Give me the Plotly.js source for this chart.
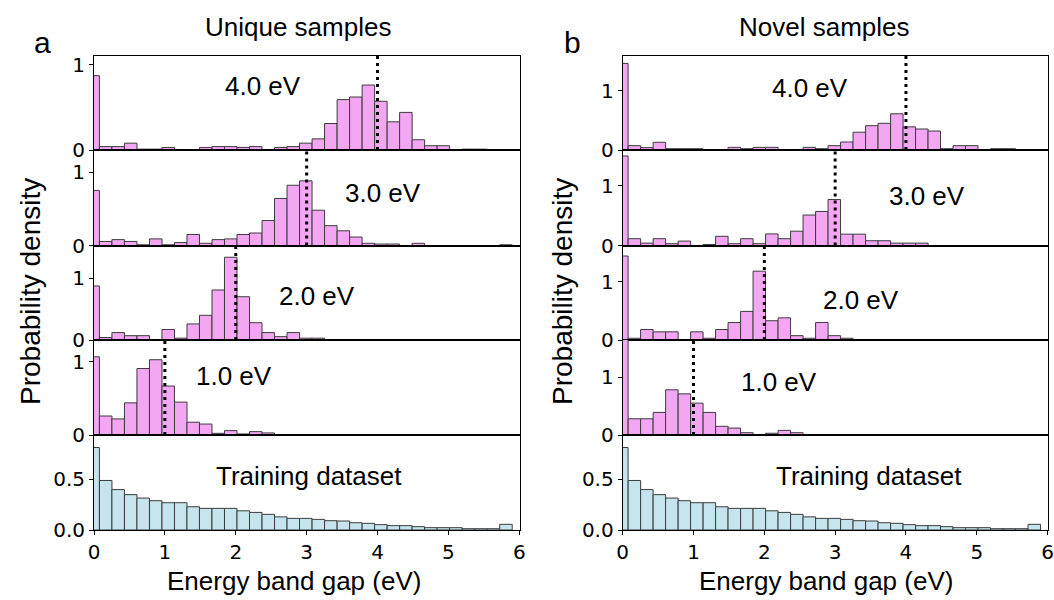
<!DOCTYPE html>
<html>
<head>
<meta charset="utf-8">
<script src="https://cdn.plot.ly/plotly-3.0.1.min.js"></script>
<style>html,body{margin:0;padding:0;background:#fff}#plot{width:1054px;height:600px}</style>
</head>
<body>
<div id="plot"></div>
<script>
// Histogram bin centers (eV)
const binCenters = [-0.012,0.165,0.341,0.518,0.694,0.871,1.047,1.224,1.400,1.576,1.753,1.929,2.106,2.282,2.459,2.635,2.812,2.988,3.165,3.341,3.518,3.694,3.871,4.047,4.224,4.400,4.576,4.753,4.929,5.106,5.282,5.459,5.635,5.812];
const binWidth = 0.1765;

// Panel a: unique samples
const uniq40 = [0.87,0.04,0.04,0.08,0.01,0.01,0.03,0,0,0.03,0.04,0.04,0.03,0.04,0,0.03,0.04,0.08,0.13,0.31,0.59,0.62,0.76,0.57,0.33,0.44,0.12,0.05,0.05,0,0.01,0.01,0,0];
const uniq30 = [0.75,0.055,0.08,0.055,0.01,0.09,0.01,0.04,0.15,0.03,0.08,0.09,0.15,0.17,0.34,0.64,0.82,0.88,0.48,0.27,0.20,0.115,0.03,0.02,0.02,0,0.03,0,0,0,0,0,0,0.01];
const uniq20 = [0.875,0.04,0.12,0.07,0.07,0,0.17,0.03,0.26,0.40,0.81,1.34,0.70,0.28,0.12,0.054,0.12,0.03,0.03,0,0,0,0,0,0,0,0,0,0,0,0,0,0,0];
const uniq10 = [1.07,0.26,0.22,0.44,0.91,1.03,0.67,0.45,0.175,0.15,0.023,0.06,0.014,0.046,0.028,0,0,0,0,0,0,0,0,0,0,0,0,0,0,0,0,0,0,0];
// Panel b: novel samples
const novel40 = [1.46,0.073,0.04,0.13,0.022,0.022,0.022,0,0,0.045,0.022,0.045,0.045,0,0,0.045,0.022,0.073,0.135,0.30,0.41,0.45,0.61,0.39,0.354,0.32,0.022,0.073,0.073,0,0.022,0.022,0,0];
const novel30 = [1.50,0.114,0.04,0.114,0.03,0.074,0,0.017,0.154,0.03,0.114,0.03,0.194,0.114,0.24,0.51,0.57,0.77,0.19,0.19,0.08,0.08,0.04,0.04,0.04,0,0,0,0,0,0,0,0,0];
const novel20 = [1.44,0.03,0.18,0.14,0.14,0,0.14,0.03,0.18,0.30,0.49,1.18,0.33,0.38,0.074,0.03,0.30,0.074,0.03,0,0,0,0,0,0,0,0,0,0,0,0,0,0,0];
const novel10 = [1.7,0.28,0.28,0.39,0.78,0.71,0.55,0.39,0.15,0.12,0.04,0,0.03,0.08,0.04,0,0,0,0,0,0,0,0,0,0,0,0,0,0,0,0,0,0,0];
// Training dataset
const training = [0.816,0.49,0.40,0.35,0.316,0.29,0.27,0.27,0.23,0.214,0.214,0.214,0.19,0.174,0.155,0.13,0.115,0.115,0.105,0.092,0.089,0.072,0.066,0.053,0.043,0.043,0.033,0.023,0.023,0.023,0.013,0.013,0.013,0.056];

const targetGaps = [4.0, 3.0, 2.0, 1.0];
const targetLabels = ['4.0 eV','3.0 eV','2.0 eV','1.0 eV'];
const trainLabel = 'Training dataset';
const xTicks = [0,1,2,3,4,5,6];
const panelTitles = ['Unique samples','Novel samples'];
const panelLetters = ['a','b'];
const xLabel = 'Energy band gap (eV)';
const yLabel = 'Probability density';

// ---- layout helpers ----
const W = 1054, H = 600;
const fx = p => p / W, fy = p => 1 - p / H;
const panelX = [[94, 520], [622.7, 1048.3]];
const rowY = [[56,150],[150,245.5],[245.5,340],[340,435],[435,530]];
const yMax = [[1.1,1.30,1.53,1.30,0.94],[1.585,1.6,1.62,1.64,0.94]];
const annPos = [
  [[2.39,0.75],[4.08,0.72],[3.15,0.71],[1.98,0.81],[3.03,0.53]],
  [[2.64,1.04],[4.30,0.83],[3.36,0.69],[2.21,0.92],[3.48,0.53]]
];
const seriesByPanel = [[uniq40,uniq30,uniq20,uniq10,training],[novel40,novel30,novel20,novel10,training]];

const pink = 'rgb(243,167,243)';
const blue = 'rgb(198,228,237)';
const edge = 'rgb(60,60,60)';
const tickFont = {family:'DejaVu Sans', size:20, color:'#000'};
const textFont = {family:'Liberation Sans, Arial, sans-serif', size:26, color:'#000'};

const data = [], shapes = [], annotations = [];
const layout = {
  width: W, height: H, margin:{l:0,r:0,t:0,b:0},
  paper_bgcolor:'#fff', plot_bgcolor:'#fff',
  showlegend:false, bargap:0
};

for (let p = 0; p < 2; p++) {
  for (let r = 0; r < 5; r++) {
    const idx = p*5 + r + 1;
    const xa = 'x' + idx, ya = 'y' + idx;
    const isTrain = r === 4;
    data.push({
      type:'bar', x: binCenters, y: seriesByPanel[p][r], width: binWidth,
      xaxis: xa, yaxis: ya,
      marker:{color: isTrain ? blue : pink, line:{color: edge, width:1}},
      hoverinfo:'skip'
    });
    layout['xaxis'+idx] = {
      domain:[fx(panelX[p][0]), fx(panelX[p][1])], anchor: ya,
      range:[0, 6.01], showgrid:false, zeroline:false,
      showline:true, mirror:true, linecolor:'#000', linewidth:1,
      tickvals: xTicks, ticktext: xTicks.map(String),
      ticks: isTrain ? 'outside' : '', ticklen:4, tickcolor:'#000',
      showticklabels: isTrain, tickfont: tickFont, fixedrange:true
    };
    const yt = isTrain ? [0,0.5] : [0,1];
    layout['yaxis'+idx] = {
      domain:[fy(rowY[r][1]), fy(rowY[r][0])], anchor: xa,
      range:[0, yMax[p][r]], showgrid:false, zeroline:false,
      showline:true, mirror:true, linecolor:'#000', linewidth:1,
      tickvals: yt, ticktext: isTrain ? ['0.0','0.5'] : ['0','1'],
      ticks:'outside', ticklen:4, tickcolor:'#000',
      tickfont: tickFont, fixedrange:true
    };
    if (!isTrain) {
      shapes.push({type:'line', xref: xa, yref: ya + ' domain',
        x0: targetGaps[r], x1: targetGaps[r], y0:0, y1:1,
        line:{color:'#000', width:3, dash:'3px,4px'}});
    }
    annotations.push({xref: xa, yref: ya, x: annPos[p][r][0], y: annPos[p][r][1],
      text: isTrain ? trainLabel : targetLabels[r], showarrow:false,
      xanchor:'center', yanchor:'middle', font: textFont});
  }
}

// Titles, panel letters, axis labels
const titleX = [298, 824], letterX = [42, 572], yLabX = [30, 562], xLabX = [294, 826];
for (let p = 0; p < 2; p++) {
  annotations.push({xref:'paper', yref:'paper', x: fx(titleX[p]), y: fy(27), text: panelTitles[p],
    showarrow:false, xanchor:'center', yanchor:'middle', font: textFont});
  annotations.push({xref:'paper', yref:'paper', x: fx(letterX[p]), y: fy(42), text: panelLetters[p],
    showarrow:false, xanchor:'center', yanchor:'middle', font: Object.assign({}, textFont, {size:30})});
  annotations.push({xref:'paper', yref:'paper', x: fx(yLabX[p]), y: fy(292), text: yLabel, textangle:-90,
    showarrow:false, xanchor:'center', yanchor:'middle', font: Object.assign({}, textFont, {size:28})});
  annotations.push({xref:'paper', yref:'paper', x: fx(xLabX[p]), y: fy(581), text: xLabel,
    showarrow:false, xanchor:'center', yanchor:'middle', font: textFont});
}
layout.shapes = shapes;
layout.annotations = annotations;

Plotly.newPlot('plot', data, layout, {staticPlot:true, displayModeBar:false});
</script>
</body>
</html>
